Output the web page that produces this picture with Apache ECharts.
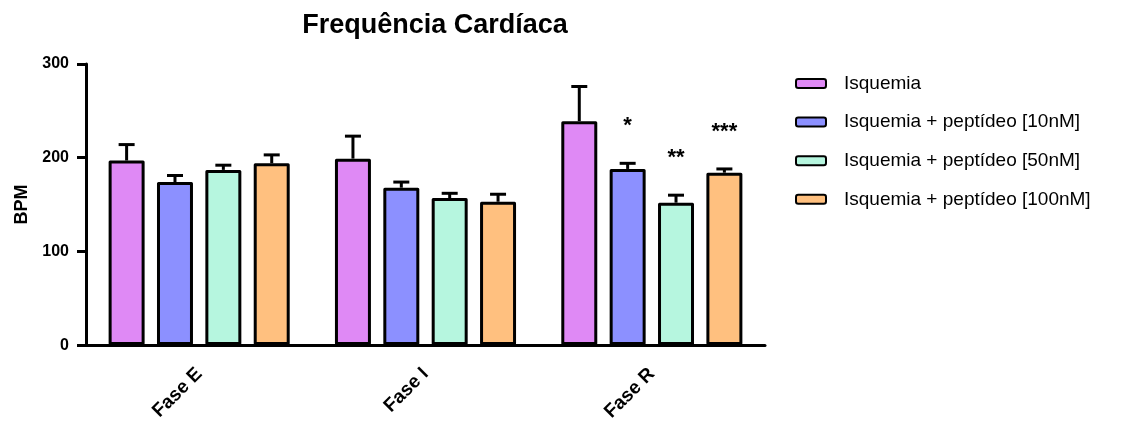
<!DOCTYPE html>
<html><head><meta charset="utf-8">
<script src="https://cdn.jsdelivr.net/npm/echarts@6/dist/echarts.min.js"></script>
<style>html,body{margin:0;padding:0;background:#fff}#c{width:1121px;height:424px}</style>
</head><body><div id="c"></div>
<script>
const categories = ['Fase E', 'Fase I', 'Fase R'];
const seriesNames = ['Isquemia', 'Isquemia + peptídeo [10nM]', 'Isquemia + peptídeo [50nM]', 'Isquemia + peptídeo [100nM]'];
const isquemia = [197, 199, 239];
const isquemiaErr = [17, 24, 37];
const pep10 = [174, 168, 188];
const pep10Err = [7, 6, 6];
const pep50 = [187, 157, 152];
const pep50Err = [5, 5, 8];
const pep100 = [194, 153, 184];
const pep100Err = [9, 8, 4];
const sigIsq = ['', '', ''];
const sig10 = ['', '', '*'];
const sig50 = ['', '', '**'];
const sig100 = ['', '', '***'];
const yTicks = [0, 100, 200, 300];

const colors = ['#DF89F5', '#8C90FF', '#B6F6DF', '#FFC07F'];
const FONT = '"Liberation Sans", Arial, sans-serif';
const BAR_W = 0.159;    // fraction of band
const BAR_GAP = 0.344;  // fraction of bar width

const values = [isquemia, pep10, pep50, pep100];
const errs = [isquemiaErr, pep10Err, pep50Err, pep100Err];
const sigs = [sigIsq, sig10, sig50, sig100];

const series = [];
values.forEach((v, i) => {
  series.push({
    type: 'bar', name: seriesNames[i], data: v,
    barWidth: (BAR_W * 100) + '%', barGap: (BAR_GAP * 100) + '%',
    itemStyle: { color: colors[i], borderColor: '#000', borderWidth: 3, borderJoin: 'round' },
    emphasis: { disabled: true }, z: 2
  });
});
values.forEach((v, i) => {
  series.push({
    type: 'custom', name: seriesNames[i] + '_err', z: 3, silent: true,
    data: v.map((val, k) => [k, val, errs[i][k]]),
    renderItem: function (params, api) {
      const band = api.size([1, 0])[0];
      const bw = band * BAR_W;
      const step = bw * (1 + BAR_GAP);
      const k = api.value(0);
      const base = api.coord([k, api.value(1)]);
      const x = base[0] + (i - 1.5) * step;
      const capY = api.coord([k, api.value(1) + api.value(2)])[1];
      const s = sigs[i][k];
      const children = [
        { type: 'line', shape: { x1: x, y1: base[1], x2: x, y2: capY }, style: { stroke: '#000', lineWidth: 3 } },
        { type: 'line', shape: { x1: x - 8, y1: capY, x2: x + 8, y2: capY }, style: { stroke: '#000', lineWidth: 3 } }
      ];
      if (s) {
        children.push({ type: 'text', x: x, y: capY - 37, style: { text: s, fill: '#000', font: 'bold 22px ' + FONT, align: 'center', verticalAlign: 'middle' } });
      }
      return { type: 'group', children: children };
    }
  });
});

const chart = echarts.init(document.getElementById('c'), null, { renderer: 'canvas' });
chart.setOption({
  animation: false,
  backgroundColor: '#fff',
  title: {
    text: 'Frequência Cardíaca', left: 430, top: 7, textAlign: 'center',
    textStyle: { fontFamily: FONT, fontWeight: 'bold', fontSize: 27, color: '#000' }
  },
  legend: {
    data: seriesNames, orient: 'vertical', left: 790, top: 69,
    itemWidth: 30, itemHeight: 9, itemGap: 19.6, selectedMode: false,
    textStyle: { fontFamily: FONT, fontSize: 19, color: '#000', padding: [0, 0, 0, 13] }
  },
  grid: { left: 86, right: 356, top: 64, bottom: 77, containLabel: false },
  xAxis: {
    type: 'category', data: categories,
    axisLine: { lineStyle: { color: '#000', width: 3 } },
    axisTick: { alignWithLabel: true, length: 7, lineStyle: { color: '#000', width: 3 } },
    axisLabel: { rotate: 45, margin: 26, fontFamily: FONT, fontWeight: 'bold', fontSize: 19, color: '#000' }
  },
  yAxis: {
    type: 'value', min: yTicks[0], max: yTicks[yTicks.length - 1], interval: yTicks[1] - yTicks[0],
    name: 'BPM', nameLocation: 'middle', nameGap: 54,
    nameTextStyle: { fontFamily: FONT, fontWeight: 'bold', fontSize: 18, color: '#000' },
    axisLine: { show: true, lineStyle: { color: '#000', width: 3 } },
    axisTick: { show: true, length: 9, lineStyle: { color: '#000', width: 3 } },
    axisLabel: { margin: 17, fontFamily: FONT, fontWeight: 'bold', fontSize: 16, color: '#000' },
    splitLine: { show: false }
  },
  series: series
});
</script></body></html>
